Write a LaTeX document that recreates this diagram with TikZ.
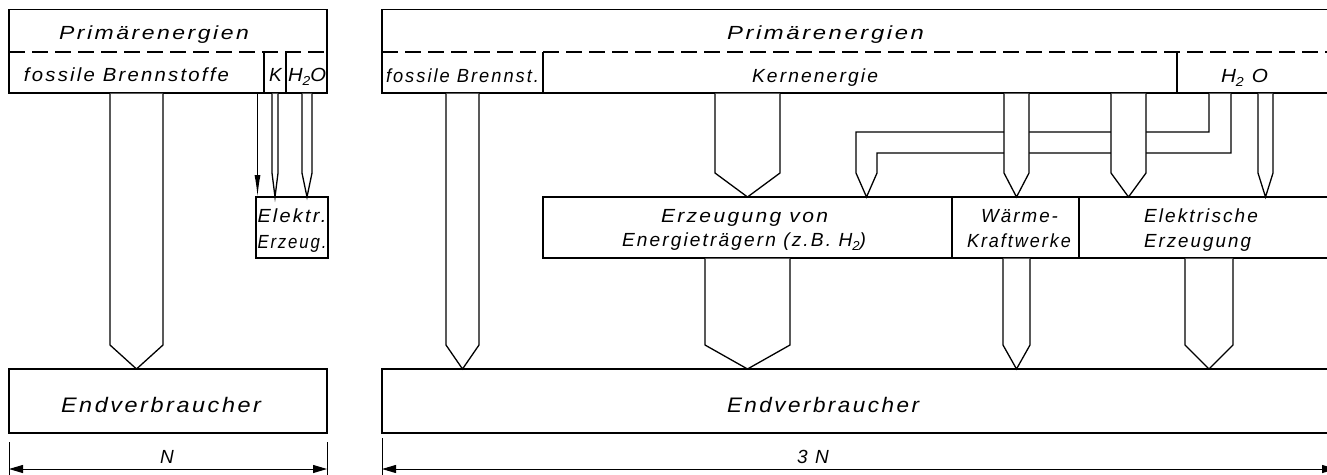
\documentclass[tikz,border=0pt]{standalone}
\usepackage{fontspec}
\usepackage{graphicx}
\newfontfamily\lfont[LetterSpace=11]{Liberation Sans}
\usetikzlibrary{arrows.meta,calc}
\newlength\fitlen
\newcommand\fitw[2]{\settowidth\fitlen{#2}\pgfmathsetmacro\fitr{(#1+2)/\fitlen}\scalebox{\fitr}[1]{#2}}
\newcommand\subs[1]{\raisebox{-4pt}{\fontsize{13}{13}\selectfont #1}}
\tikzset{
  box/.style={draw, line width=1.3pt, inner sep=0pt, outer sep=0pt, anchor=north west, rectangle},
  pipeline/.style={draw, fill=white, line width=1.3pt, line join=miter},
  rule/.style={line width=1.3pt},
  dashline/.style={line width=1.3pt, dash pattern=on 16pt off 7pt},
  lbl/.style={anchor=base, inner sep=0pt, outer sep=0pt, font=\lfont\itshape\fontsize{19}{21}\selectfont},
  biglbl/.style={lbl, font=\lfont\itshape\fontsize{21}{23}\selectfont},
  dimline/.style={line width=1pt, {Triangle[length=14pt,width=8pt]}-{Triangle[length=14pt,width=8pt]}},
  tick/.style={line width=1pt},
  thinarrow/.style={line width=1.3pt, -{Latex[length=22pt,width=6pt]}}
}
% pipe arrow: name, x left, x right, source node, target node
\newcommand\pipe[5]{%
  \coordinate (#1l) at (#2,0);
  \coordinate (#1r) at (#3,0);
  \coordinate (#1m) at ({(#2+#3)/2},0);
  \draw[pipeline] ($(#1l |- #4.south)+(0,0.65)$) -- ($(#1l |- #5.north)+(0,-24)$)
     -- (#1m |- #5.north) -- ($(#1r |- #5.north)+(0,-24)$) -- ($(#1r |- #4.south)+(0,0.65)$);
}
\begin{document}
\begin{tikzpicture}[x=1pt,y=-1pt]
\useasboundingbox (0,0) rectangle (1327,474);
\clip (0,0) rectangle (1327,474);
\fill[white] (0,0) rectangle (1327,474);

% ---------------- left panel ----------------
\node[box, minimum width=318pt, minimum height=83.5pt] (ptL) at (9,9.5) {};
\draw[dashline] (9,52) -- (327,52);
\draw[rule] (264,52) -- (264,93);
\draw[rule] (286,52) -- (286,93);
\node[box, minimum width=72pt, minimum height=61pt] (eeL) at (256,197) {};
\node[box, minimum width=318pt, minimum height=64pt] (endL) at (9,369) {};

\node[lbl] (tPL) at (154,39) {\fitw{188}{Primärenergien}};
\node[lbl] (tFL) at (126.5,81) {\fitw{203}{fossile Brennstoffe}};
\node[lbl] (tK) at (275.5,81) {K};
\node[lbl] (tHL) at (307,81) {\fitw{36}{H\subs{2}O}};
\node[lbl] (tEE1) at (292,222) {\fitw{67}{Elektr.}};
\node[lbl] (tEE2) at (292,248) {\fitw{67}{Erzeug.}};
\node[biglbl] (tEndL) at (161,412) {\fitw{198}{Endverbraucher}};

\pipe{pfl}{110}{163}{ptL}{endL}
\pipe{pk}{272}{278}{ptL}{eeL}
\pipe{phl}{302}{312}{ptL}{eeL}
\coordinate (ta) at (257.5,0);
\draw[thinarrow] (ta |- ptL.south) -- (ta |- eeL.north);

% dimension left
\draw[tick] (9,442) -- (9,476);
\draw[tick] (327,442) -- (327,476);
\coordinate (dl1) at (9,469);
\coordinate (dl2) at (327,469);
\draw[dimline] (dl1) -- (dl2);
\node[lbl] (tN) at (167,463) {N};

% ---------------- right panel ----------------
\node[box, minimum width=960pt, minimum height=83.5pt] (ptR) at (382,9.5) {};
\draw[dashline] (382,52) -- (1345,52);
\draw[rule] (543,52) -- (543,93);
\draw[rule] (1177,52) -- (1177,93);
\node[box, minimum width=409pt, minimum height=61pt] (erz) at (543,197) {};
\node[box, minimum width=127pt, minimum height=61pt] (wkw) at (952,197) {};
\node[box, minimum width=262pt, minimum height=61pt] (elr) at (1079,197) {};
\node[box, minimum width=960pt, minimum height=64pt] (endR) at (382,369) {};

\node[lbl] (tPR) at (825.5,39) {\fitw{195}{Primärenergien}};
\node[lbl] (tFR) at (462.5,82) {\fitw{151}{fossile Brennst.}};
\node[lbl] (tKern) at (815,82) {\fitw{124}{Kernenergie}};
\node[lbl] (tHR) at (1244.5,82) {\fitw{45}{H\subs{2} O}};
\node[lbl] (tErz1) at (744.5,222) {\fitw{165}{Erzeugung von}};
\node[lbl] (tErz2) at (744,246) {\fitw{242}{Energieträgern (z.B. H\subs{2})}};
\node[lbl] (tW1) at (1019.5,222) {\fitw{75}{Wärme-}};
\node[lbl] (tW2) at (1019,247) {\fitw{102}{Kraftwerke}};
\node[lbl] (tEl1) at (1201,222) {\fitw{112}{Elektrische}};
\node[lbl] (tEl2) at (1197.5,247) {\fitw{105}{Erzeugung}};
\node[biglbl] (tEndR) at (823,412) {\fitw{190}{Endverbraucher}};

% bent pipe from H2O to Energietraeger (drawn first, crossed by the others)
\coordinate (ba) at (1209,0);
\coordinate (bb) at (1231,0);
\coordinate (bc) at (856,0);
\coordinate (bd) at (877,0);
\coordinate (bm) at (866.5,0);
\draw[pipeline] ($(ba |- ptR.south)+(0,0.65)$) -- (1209,132) -- (856,132)
   -- ($(bc |- erz.north)+(0,-24)$) -- (bm |- erz.north) -- ($(bd |- erz.north)+(0,-24)$)
   -- (877,153) -- (1231,153) -- ($(bb |- ptR.south)+(0,0.65)$);

\pipe{pfr}{446}{479}{ptR}{endR}
\pipe{pke}{715}{780}{ptR}{erz}
\pipe{pkw}{1004}{1029}{ptR}{wkw}
\pipe{pkel}{1111}{1146}{ptR}{elr}
\pipe{phr}{1258}{1273}{ptR}{elr}
\pipe{pee}{705}{790}{erz}{endR}
\pipe{pwe}{1003}{1030}{wkw}{endR}
\pipe{pele}{1185}{1233}{elr}{endR}

% dimension right
\draw[tick] (382,438) -- (382,476);
\coordinate (dr1) at (382,469);
\coordinate (dr2) at (1336,469);
\draw[dimline] (dr1) -- (dr2);
\node[lbl] (t3N) at (813,463) {3 N};
\end{tikzpicture}
\end{document}
